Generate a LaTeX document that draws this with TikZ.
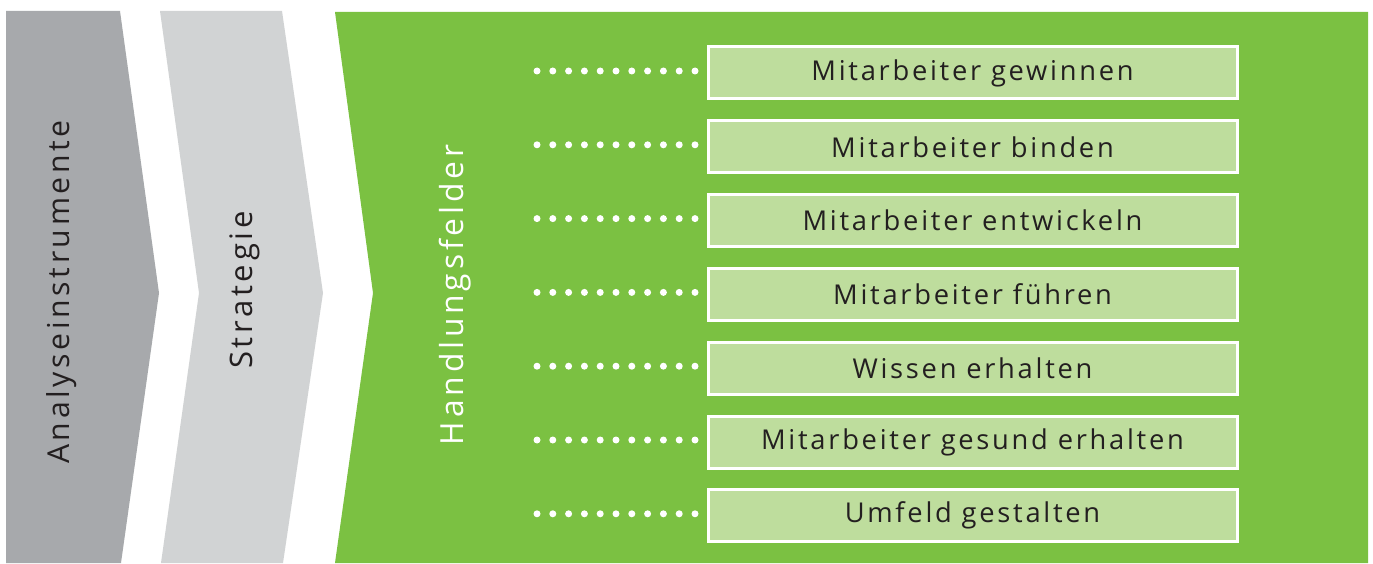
\documentclass[tikz,border=0pt]{standalone}
\usepackage{fontspec}
\setmainfont{Open Sans}[LetterSpace=10]
\newfontfamily\sidefont{Open Sans}[LetterSpace=12]
\definecolor{grayA}{HTML}{A7A9AC}
\definecolor{grayB}{HTML}{D1D3D4}
\definecolor{grn}{HTML}{7BC142}
\definecolor{boxfill}{HTML}{BEDD9D}
\definecolor{txt}{HTML}{231F20}
\tikzset{
  fieldbox/.style={draw=white, line width=3pt, fill=boxfill, minimum width=529pt, minimum height=52pt, inner sep=0pt, text=txt, font=\fontsize{27.3}{32}\selectfont},
  dotline/.style={white, line width=7pt, line cap=round, dash pattern=on 0pt off 15.8pt},
  sidelabel/.style={rotate=90, inner sep=0pt}
}
\begin{document}
\begin{tikzpicture}[x=1pt,y=-1pt]
\useasboundingbox (0,0) rectangle (1373,564);
\fill[white] (0,0) rectangle (1373,564);
% chevrons
\fill[grayA] (6,11) -- (120,11) -- (159,293) -- (121,563) -- (6,563) -- cycle;
\fill[grayB] (160,11) -- (282,11) -- (323,293) -- (283,563) -- (161,563) -- (199,293) -- cycle;
\fill[grn] (335,12) -- (1368,12) -- (1368,563) -- (335,563) -- (373,293) -- cycle;
% side labels
\node[sidelabel, text=txt, font=\sidefont\fontsize{30.2}{36}\selectfont] (ana) at (62,292) {Analyseinstrumente};
\node[sidelabel, text=txt, font=\sidefont\fontsize{31}{36}\selectfont] (str) at (245,290) {Strategie};
\node[sidelabel, text=white, font=\sidefont\fontsize{31.8}{38}\selectfont] (hand) at (455,295) {Handlungsfelder};
% field boxes
\foreach \i/\t in {0/Mitarbeiter gewinnen,1/Mitarbeiter binden,2/Mitarbeiter entwickeln,3/Mitarbeiter führen,4/Wissen erhalten,5/Mitarbeiter gesund erhalten,6/Umfeld gestalten}{
  \node[fieldbox] (b\i) at (972.5,{73+73.8*\i}) {\t};
  \coordinate (d\i) at (537,{71+73.8*\i});
  \draw[dotline] (d\i) -- (d\i -| b\i.west);
}
\end{tikzpicture}
\end{document}
